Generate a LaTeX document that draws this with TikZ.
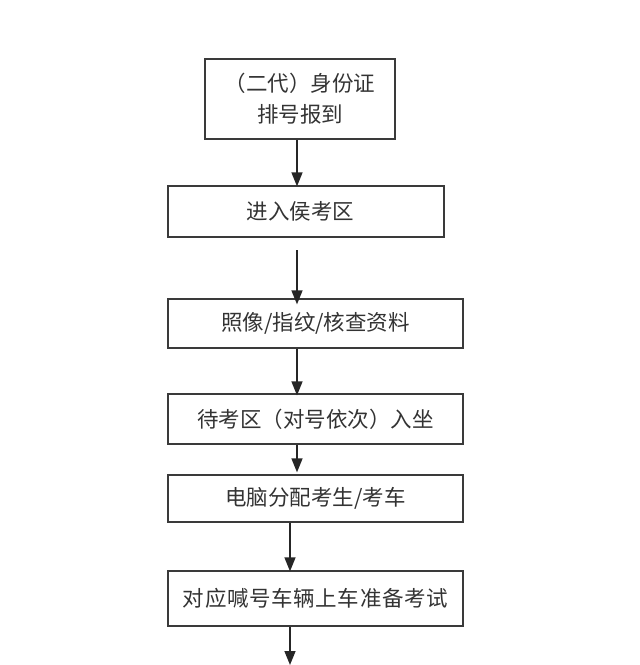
\documentclass[tikz,border=0pt]{standalone}
\usepackage{fontspec}
\newfontfamily\cjk{Noto Sans CJK SC}
\usetikzlibrary{arrows.meta}
\definecolor{linegray}{HTML}{3A3A3A}
\definecolor{textgray}{HTML}{333333}
\tikzset{
  box/.style={draw=linegray, line width=1.3pt, rectangle, inner sep=0pt,
    font=\cjk\fontsize{21.5pt}{31pt}\selectfont, text=textgray, align=center},
  arr/.style={draw=black!85, line width=1.5pt,
    -{Triangle[length=14pt,width=11pt]}},
}
\begin{document}
\begin{tikzpicture}[x=1pt,y=-1pt]
\useasboundingbox (0,0) rectangle (640,665);
\node[box, minimum width=190pt, minimum height=80pt] (b1) at (300,99) {（二代）身份证\\排号报到};
\node[box, minimum width=276pt, minimum height=51pt] (b2) at (306,211.5) {\hspace*{-11pt}进入侯考区};
\node[box, minimum width=295pt, minimum height=49pt] (b3) at (315.5,323.5) {照像/指纹/核查资料};
\node[box, minimum width=295pt, minimum height=50pt] (b4) at (315.5,419) {待考区（对号依次）入坐};
\node[box, minimum width=295pt, minimum height=47pt] (b5) at (315.5,498.5) {电脑分配考生/考车};
\node[box, minimum width=295pt, minimum height=55pt] (b6) at (315.5,598.5) {\addfontfeature{LetterSpace=3}对应喊号车辆上车准备考试};
\coordinate (xa) at (297,0);
\coordinate (xb) at (290,0);
\coordinate (s2) at (297,250);
\coordinate (end) at (290,665);
\draw[arr] (b1.south -| xa) -- ([yshift=-1pt]b2.north -| xa);
\draw[arr] (s2) -- ([yshift=-6pt]b3.north -| xa);
\draw[arr] (b3.south -| xa) -- ([yshift=-2pt]b4.north -| xa);
\draw[arr] (b4.south -| xa) -- ([yshift=2pt]b5.north -| xa);
\draw[arr] (b5.south -| xb) -- ([yshift=-1pt]b6.north -| xb);
\draw[arr] (b6.south -| xb) -- (end);
\end{tikzpicture}
\end{document}
